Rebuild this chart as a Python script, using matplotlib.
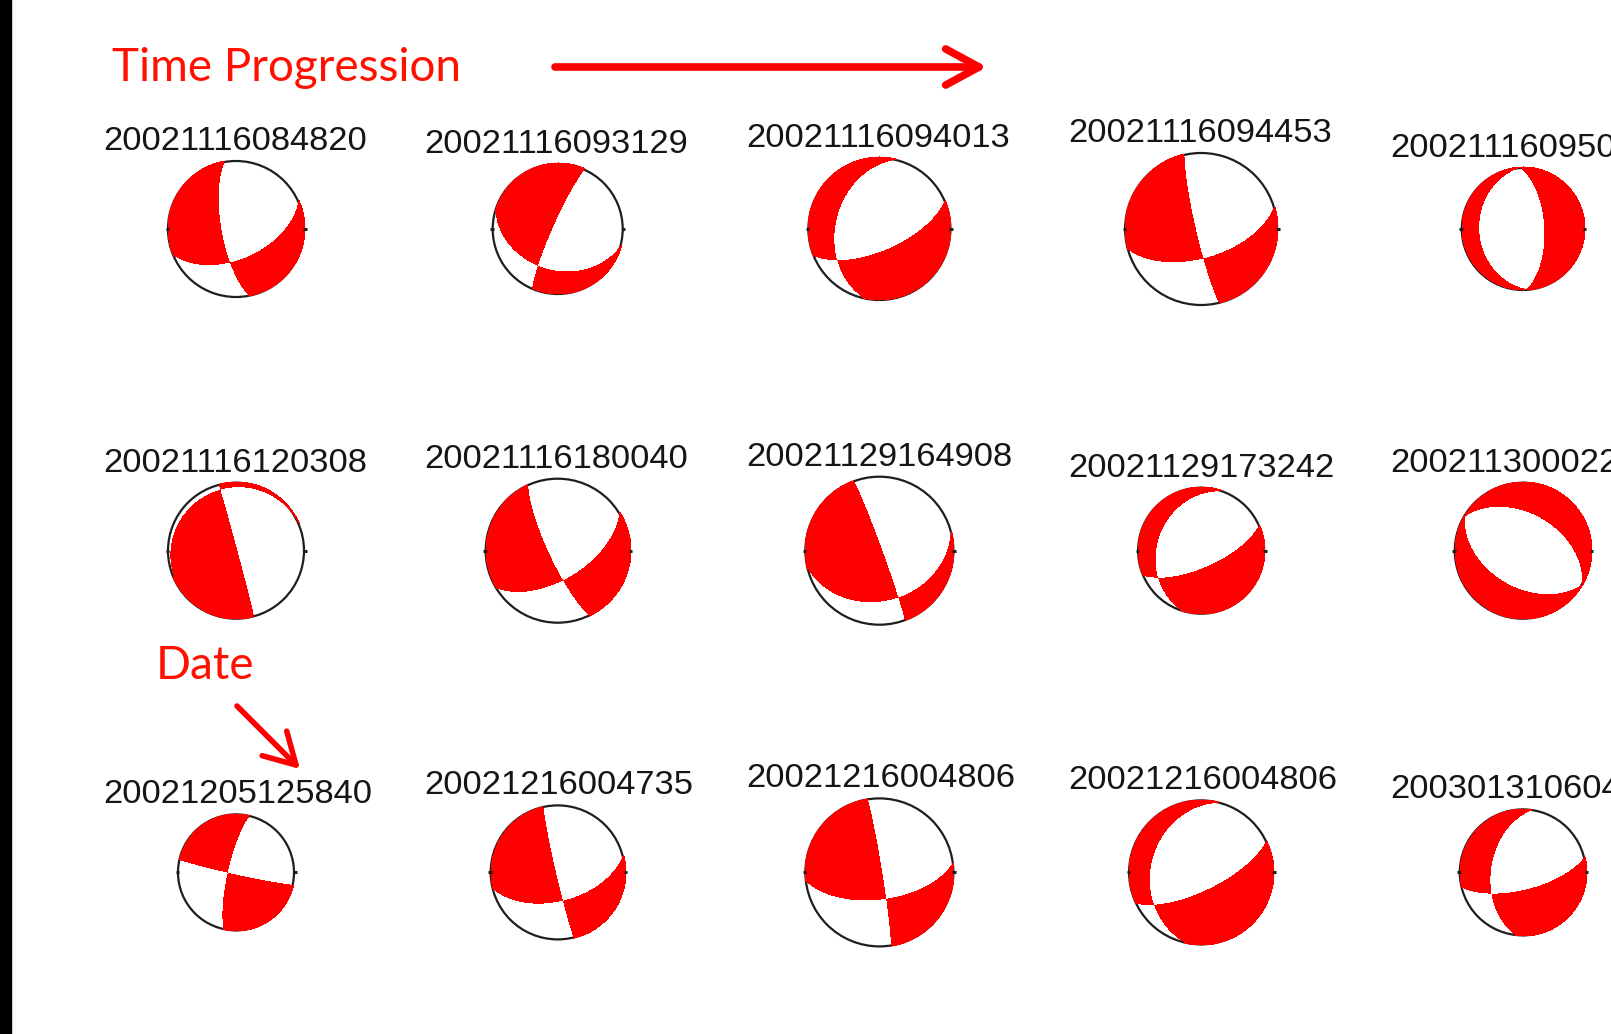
import numpy as np
import matplotlib.pyplot as plt
from matplotlib.patches import Circle, Rectangle, FancyArrowPatch

# event ids (yyyymmddhhmmss), row by row; the last column runs off the page
events = ["20021116084820", "20021116093129", "20021116094013", "20021116094453", "2002111609500",
          "20021116120308", "20021116180040", "20021129164908", "20021129173242", "200211300022",
          "20021205125840", "20021216004735", "20021216004806", "20021216004806", "200301310604"]

# focal mechanism of each event: nodal plane 1 (degrees)
strike = [170, 204, 194, 167, 357,
          345, 155, 340, 200, 300,
          193, 167, 351, 194, 188]
dip = [72, 83, 38, 84, 62,
       89, 79, 87, 30, 45,
       78, 87, 87, 30, 47]
rake = [-141, -125, -136, -148, -90,
        82, -147, 122, -132, -90,
        -177, -145, 150, -136, -149]

# layout (pixels)
W, H = 1611, 1034
ncol = 5
x0, y0, pitch = 236, 229, 321.7
ball_r = [68, 65, 71, 76, 61,
          68, 72, 74, 63, 68,
          58, 67, 74, 72, 63]


def beach(ax, cx, cy, R, s, d, r):
    # lower hemisphere, equal-area projection; red = compressional first motion
    phi, delta, lam = np.radians([s, d, r])
    nv = np.array([-np.sin(delta) * np.sin(phi), np.sin(delta) * np.cos(phi), -np.cos(delta)])
    dv = np.array([np.cos(lam) * np.cos(phi) + np.cos(delta) * np.sin(lam) * np.sin(phi),
                   np.cos(lam) * np.sin(phi) - np.cos(delta) * np.sin(lam) * np.cos(phi),
                   -np.sin(lam) * np.sin(delta)])
    Rf = R + 1.2
    npx = int(2 * Rf) + 1
    t = np.linspace(-Rf, Rf, npx)
    e, nn = np.meshgrid(t, -t)
    rho = np.hypot(e, nn)
    inc = 2 * np.arcsin(np.clip(rho / R, 0, 1) / np.sqrt(2))
    az = np.arctan2(e, nn)
    xyz = np.stack([np.sin(inc) * np.cos(az), np.sin(inc) * np.sin(az), np.cos(inc)])
    pol = np.tensordot(nv, xyz, 1) * np.tensordot(dv, xyz, 1)
    img = np.zeros(e.shape + (4,))
    img[..., 0] = 1.0
    img[..., 3] = ((pol > 0) & (rho <= Rf)).astype(float)
    ax.add_patch(Circle((cx, cy), R, fill=False, ec='#1e1e1e', lw=1.6, zorder=2))
    ax.imshow(img, extent=(cx - Rf, cx + Rf, cy + Rf, cy - Rf),
              interpolation='nearest', zorder=3)
    # small ticks at E and W
    for sgn in (-1, 1):
        ax.plot([cx + sgn * (R - 1), cx + sgn * (R + 2.5)], [cy, cy],
                color='#1e1e1e', lw=2.2, solid_capstyle='butt', zorder=4)


fig = plt.figure(figsize=(W / 100, H / 100), dpi=100)
ax = fig.add_axes([0, 0, 1, 1])
ax.set_facecolor('white')

for k, ev in enumerate(events):
    cx = x0 + pitch * (k % ncol)
    cy = y0 + pitch * (k // ncol)
    R = ball_r[k]
    beach(ax, cx, cy, R, strike[k], dip[k], rake[k])
    ax.text(cx - 133, cy - R - 11, ev, ha='left', va='baseline',
            fontsize=24.8, family='Liberation Sans', color='#151515')

# black strip down the left edge
ax.add_patch(Rectangle((0, 0), 11, H, color='black', zorder=5))

ax.text(112, 81, 'Time Progression', color='#ff1000', fontsize=33,
        family='Lato', ha='left', va='baseline')
ax.add_patch(FancyArrowPatch((555, 67), (987, 67),
                             arrowstyle='->,head_length=24,head_width=13',
                             color='#ff0000', lw=5.5, shrinkA=0, shrinkB=0,
                             mutation_scale=1, zorder=6))

ax.text(156, 679, 'Date', color='#ff1000', fontsize=33,
        family='Lato', ha='left', va='baseline')
ax.add_patch(FancyArrowPatch((237, 706), (300, 769),
                             arrowstyle='->,head_length=22,head_width=12.5',
                             color='#ff0000', lw=4, shrinkA=0, shrinkB=0,
                             mutation_scale=1, zorder=6))

ax.set_xlim(0, W)
ax.set_ylim(H, 0)
ax.axis('off')
fig.savefig('out.png', dpi=100, facecolor='white')
